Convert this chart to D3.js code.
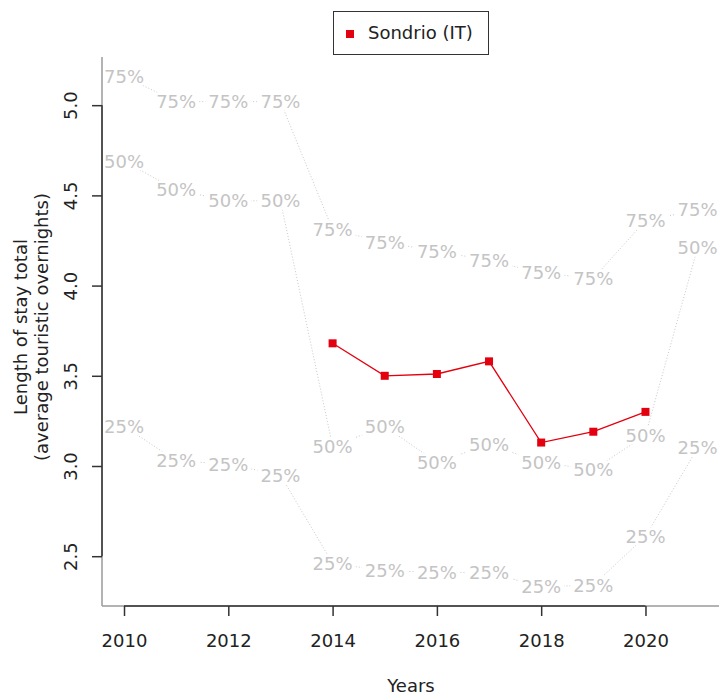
<!DOCTYPE html>
<html>
<head>
<meta charset="utf-8">
<script src="https://cdn.jsdelivr.net/npm/d3@7"></script>
<style>
  html, body { margin: 0; padding: 0; background: #fff; }
  svg { display: block; font-family: "DejaVu Sans", sans-serif; }
</style>
</head>
<body>
<svg id="chart" width="719" height="695"></svg>
<script>
// Years on the x axis
const years = [2010, 2011, 2012, 2013, 2014, 2015, 2016, 2017, 2018, 2019, 2020, 2021];

// Regional quartiles of length of stay (reference bands)
const q25 = [3.22, 3.03, 3.01, 2.95, 2.46, 2.42, 2.41, 2.41, 2.33, 2.34, 2.61, 3.10];
const q50 = [4.69, 4.53, 4.47, 4.47, 3.11, 3.22, 3.02, 3.12, 3.02, 2.98, 3.17, 4.21];
const q75 = [5.16, 5.02, 5.02, 5.02, 4.31, 4.24, 4.19, 4.14, 4.07, 4.04, 4.36, 4.42];

// Sondrio series
const sondrioYears = [2014, 2015, 2016, 2017, 2018, 2019, 2020];
const sondrioValues = [3.68, 3.50, 3.51, 3.58, 3.13, 3.19, 3.30];

const yTicks = [2.5, 3.0, 3.5, 4.0, 4.5, 5.0];
const xTicks = [2010, 2012, 2014, 2016, 2018, 2020];
const seriesName = "Sondrio (IT)";

const svg = d3.select("#chart");
const plot = { left: 102, right: 719, top: 57, bottom: 606 };

const x = d3.scaleLinear().domain([2009.578, 2021.41]).range([plot.left, plot.right]);
const y = d3.scaleLinear().domain([2.224, 5.267]).range([plot.bottom, plot.top]);

// Quartile bands: dotted connectors with labels on top
const bands = [
  { label: "75%", values: q75 },
  { label: "50%", values: q50 },
  { label: "25%", values: q25 }
];

const bandLine = d3.line().x(d => x(d[0])).y(d => y(d[1]));
const gBands = svg.append("g");

bands.forEach(b => {
  const pts = years.map((yr, i) => [yr, b.values[i]]);
  gBands.append("path")
    .attr("d", bandLine(pts))
    .attr("fill", "none")
    .attr("stroke", "#c8c8c8")
    .attr("stroke-width", 1)
    .attr("stroke-dasharray", "1,2");
});

bands.forEach(b => {
  const pts = years.map((yr, i) => [yr, b.values[i]]);
  const g = gBands.selectAll(null).data(pts).enter().append("g")
    .attr("transform", d => `translate(${x(d[0])},${y(d[1])})`);
  g.append("rect")
    .attr("x", -23).attr("y", -9).attr("width", 46).attr("height", 18)
    .attr("fill", "#fff");
  g.append("text")
    .attr("text-anchor", "middle")
    .attr("dy", "0.36em")
    .attr("font-size", 18)
    .attr("fill", "#c4c4c4")
    .text(b.label);
});

// L-shaped frame in grey, axis spans in dark
const frameColor = "#9a9a9a";
const axisColor = "#333";
svg.append("line")
  .attr("x1", plot.left).attr("x2", plot.left)
  .attr("y1", plot.top).attr("y2", plot.bottom)
  .attr("stroke", frameColor).attr("stroke-width", 1.5);
svg.append("line")
  .attr("x1", plot.left).attr("x2", plot.right)
  .attr("y1", plot.bottom).attr("y2", plot.bottom)
  .attr("stroke", frameColor).attr("stroke-width", 1.5);

const xAxis = d3.axisBottom(x).tickValues(xTicks).tickFormat(d3.format("d"))
  .tickSize(10).tickSizeOuter(0);
const gx = svg.append("g").attr("transform", `translate(0,${plot.bottom})`).call(xAxis);
gx.select(".domain")
  .attr("d", `M${x(xTicks[0])},0H${x(xTicks[xTicks.length - 1])}`)
  .attr("stroke", axisColor).attr("stroke-width", 1.5);
gx.selectAll(".tick line").attr("stroke", axisColor).attr("stroke-width", 1.5);
gx.selectAll(".tick text").attr("font-size", 18).attr("fill", "#222")
  .attr("font-family", "DejaVu Sans, sans-serif").attr("y", 41).attr("dy", 0);

const yAxis = d3.axisLeft(y).tickValues(yTicks).tickFormat(d3.format(".1f"))
  .tickSize(10).tickSizeOuter(0);
const gy = svg.append("g").attr("transform", `translate(${plot.left},0)`).call(yAxis);
gy.select(".domain")
  .attr("d", `M0,${y(yTicks[0])}V${y(yTicks[yTicks.length - 1])}`)
  .attr("stroke", axisColor).attr("stroke-width", 1.5);
gy.selectAll(".tick line").attr("stroke", axisColor).attr("stroke-width", 1.5);
gy.selectAll(".tick text")
  .attr("font-size", 18).attr("fill", "#222")
  .attr("font-family", "DejaVu Sans, sans-serif")
  .attr("text-anchor", "middle")
  .attr("x", 0).attr("dy", 0)
  .attr("transform", "translate(-25,0) rotate(-90)");

// Axis titles
svg.append("text")
  .attr("x", 411).attr("y", 692)
  .attr("text-anchor", "middle")
  .attr("font-size", 18).attr("fill", "#222")
  .text("Years");

const yTitle = svg.append("g").attr("transform", "translate(0,327) rotate(-90)");
yTitle.append("text").attr("x", 0).attr("y", 27)
  .attr("text-anchor", "middle").attr("font-size", 18).attr("fill", "#222")
  .text("Length of stay total");
yTitle.append("text").attr("x", 0).attr("y", 48)
  .attr("text-anchor", "middle").attr("font-size", 18).attr("fill", "#222")
  .text("(average touristic overnights)");

// Sondrio series
const red = "#e3000f";
const pts = sondrioYears.map((yr, i) => [yr, sondrioValues[i]]);
svg.append("path")
  .attr("d", d3.line().x(d => x(d[0])).y(d => y(d[1]))(pts))
  .attr("fill", "none").attr("stroke", red).attr("stroke-width", 1.3);
svg.selectAll(null).data(pts).enter().append("rect")
  .attr("x", d => x(d[0]) - 4).attr("y", d => y(d[1]) - 4)
  .attr("width", 8).attr("height", 8)
  .attr("fill", red);

// Legend
const lg = svg.append("g");
lg.append("rect").attr("x", 333.5).attr("y", 11.5).attr("width", 155).attr("height", 43)
  .attr("fill", "#fff").attr("stroke", "#333").attr("stroke-width", 1);
lg.append("rect").attr("x", 346).attr("y", 30).attr("width", 8).attr("height", 8).attr("fill", red);
lg.append("text").attr("x", 368).attr("y", 39)
  .attr("font-size", 18).attr("fill", "#222").text(seriesName);
</script>
</body>
</html>
